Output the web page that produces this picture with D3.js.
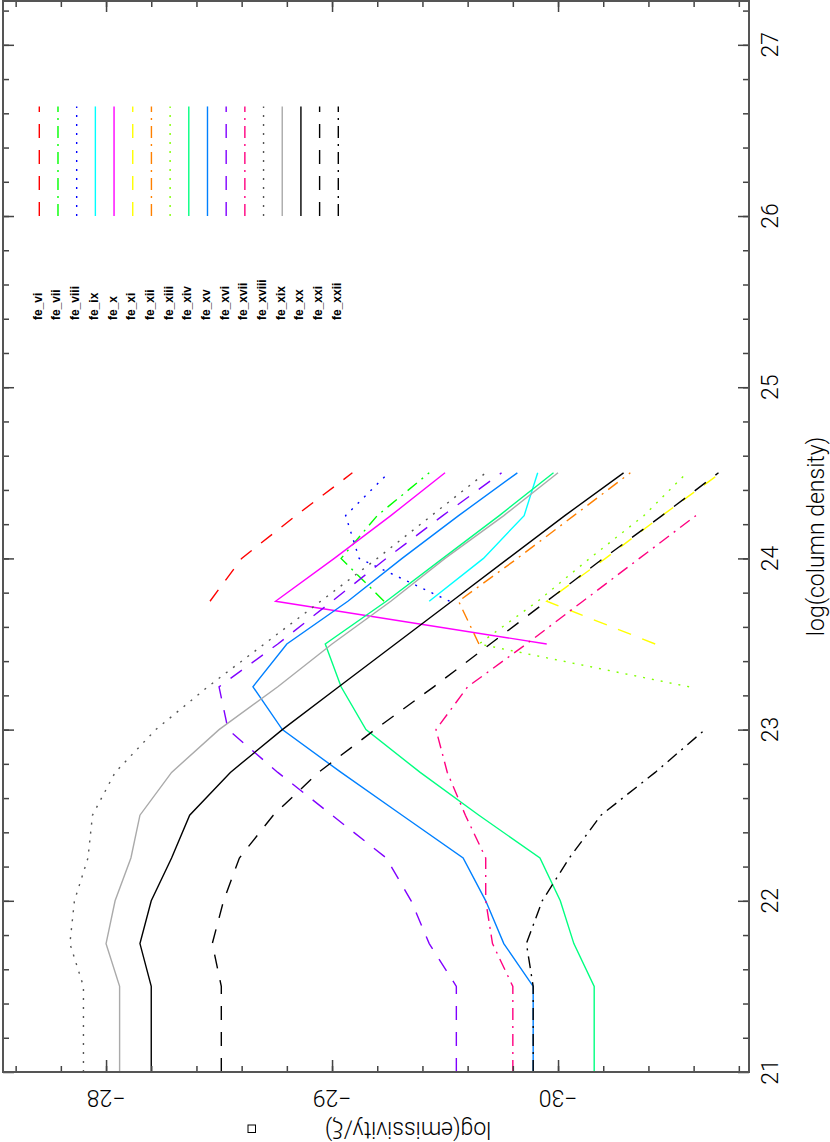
<!DOCTYPE html>
<html>
<head>
<meta charset="utf-8">
<script src="https://cdn.jsdelivr.net/npm/d3@7"></script>
<style>
  html, body { margin: 0; padding: 0; background: #fff; }
  svg { display: block; }
  .lbl { font-family: Roboto, "Liberation Sans", Arial, sans-serif; font-weight: 300; font-size: 23px; fill: #000; }
  .leg { font-family: "Liberation Sans", Arial, sans-serif; font-weight: bold; font-size: 12px; fill: #000; }
</style>
</head>
<body>
<svg id="chart" width="830" height="1142"></svg>
<script>
// column density grid (log N)
const logN = [21, 21.5, 21.75, 22, 22.25, 22.5, 22.75, 23, 23.25, 23.5, 23.75, 24, 24.25, 24.5]

// log(emissivity/xi) per ion, aligned with logN (null = not computed)
const fe_vi    = [null, null, null, null, null, null, null, null, null, null, -28.46, -28.60, -28.84, -29.09]
const fe_vii   = [null, null, null, null, null, null, null, null, null, null, -29.23, -29.04, -29.20, -29.43]
const fe_viii  = [null, null, null, null, null, null, null, null, null, null, -29.52, -29.12, -29.06, -29.25]
const fe_ix    = [null, null, null, null, null, null, null, null, null, null, -29.43, -29.67, -29.85, -29.91]
const fe_x     = [null, null, null, null, null, null, null, null, null, -29.95, -28.75, -29.01, -29.26, -29.50]
const fe_xi    = [null, null, null, null, null, null, null, null, null, -30.43, -29.95, -30.21, -30.46, -30.72]
const fe_xii   = [null, null, null, null, null, null, null, null, null, -29.65, -29.56, -29.82, -30.07, -30.32]
const fe_xiii  = [null, null, null, null, null, null, null, null, -30.58, -29.65, -29.91, -30.14, -30.38, -30.57]
const fe_xiv   = [-30.16, -30.16, -30.07, -30.01, -29.92, -29.65, -29.39, -29.15, -29.04, -28.97, -29.24, -29.49, -29.74, -29.98]
const fe_xv    = [-29.89, -29.89, -29.76, -29.68, -29.58, -29.31, -29.04, -28.78, -28.65, -28.80, -29.07, -29.31, -29.56, -29.82]
const fe_xvi   = [-29.55, -29.55, -29.43, -29.35, -29.24, -29.00, -28.76, -28.54, -28.50, -28.76, -29.00, -29.24, -29.49, -29.75]
const fe_xvii  = [-29.80, -29.80, -29.71, -29.68, -29.68, -29.59, -29.51, -29.46, -29.60, -29.86, -30.11, -30.36, -30.61, null]
const fe_xviii = [-27.90, -27.90, -27.84, -27.86, -27.92, -27.94, -28.04, -28.22, -28.45, -28.70, -28.95, -29.20, -29.44, -29.68]
const fe_xix   = [-28.06, -28.06, -28.00, -28.04, -28.11, -28.15, -28.29, -28.50, -28.76, -29.00, -29.26, -29.50, -29.76, -30.00]
const fe_xx    = [-28.20, -28.20, -28.15, -28.20, -28.29, -28.37, -28.55, -28.78, -29.03, -29.28, -29.53, -29.78, -30.03, -30.29]
const fe_xxi   = [-28.51, -28.51, -28.47, -28.52, -28.59, -28.74, -28.94, -29.19, -29.45, -29.70, -29.95, -30.20, -30.46, -30.71]
const fe_xxii  = [-29.89, -29.89, -29.86, -29.93, -30.05, -30.19, -30.43, -30.65, null, null, null, null, null, null]

const ionNames = ['fe_vi', 'fe_vii', 'fe_viii', 'fe_ix', 'fe_x', 'fe_xi', 'fe_xii', 'fe_xiii', 'fe_xiv',
  'fe_xv', 'fe_xvi', 'fe_xvii', 'fe_xviii', 'fe_xix', 'fe_xx', 'fe_xxi', 'fe_xxii']
const ionValues = [fe_vi, fe_vii, fe_viii, fe_ix, fe_x, fe_xi, fe_xii, fe_xiii, fe_xiv,
  fe_xv, fe_xvi, fe_xvii, fe_xviii, fe_xix, fe_xx, fe_xxi, fe_xxii]

// tick labels
const cdTicks = [21, 22, 23, 24, 25, 26, 27]
const emTicks = [-30, -29, -28]

// pgplot-like colour / line style cycle
const colors = ['#ff0000', '#00ff00', '#0000ff', '#00ffff', '#ff00ff', '#ffff00', '#ff8000', '#80ff00', '#00ff80',
  '#0080ff', '#8000ff', '#ff0080', '#555555', '#aaaaaa', '#000000', '#000000', '#000000']
const dashes = { solid: null, dashed: '14,12', dashdot: '12,6,2,6', dotted: '2,7' }
const styles = ['dashed', 'dashdot', 'dotted', 'solid', 'solid', 'dashed', 'dashdot', 'dotted', 'solid',
  'solid', 'dashed', 'dashdot', 'dotted', 'solid', 'solid', 'dashed', 'dashdot']

const svg = d3.select('#chart')

// plot is drawn rotated: column density runs bottom -> top, emissivity runs right -> left
const frame = { left: 3, right: 749, top: 1, bottom: 1072 }
const y = d3.scaleLinear().domain([21, 27.256]).range([frame.bottom, frame.top])
const x = d3.scaleLinear().domain([-30.845, -27.544]).range([frame.right, frame.left])

// curves
const line = d3.line()
  .defined(d => d.v != null)
  .x(d => x(d.v))
  .y(d => y(d.n))

const curves = svg.append('g')
ionValues.forEach((vals, i) => {
  const pts = vals.map((v, j) => ({ n: logN[j], v }))
  curves.append('path')
    .attr('d', line(pts))
    .attr('fill', 'none')
    .attr('stroke', colors[i])
    .attr('stroke-width', 1.4)
    .attr('stroke-dasharray', dashes[styles[i]])
})

// legend: vertical sample lines with rotated names below
const legX = d3.scalePoint().domain(ionNames).range([39.3, 338.3])
const legend = svg.append('g')
ionNames.forEach((name, i) => {
  legend.append('line')
    .attr('x1', legX(name)).attr('x2', legX(name))
    .attr('y1', y(26)).attr('y2', y(26.64))
    .attr('stroke', colors[i])
    .attr('stroke-width', 1.4)
    .attr('stroke-dasharray', dashes[styles[i]])
  legend.append('text')
    .attr('class', 'leg')
    .attr('transform', `translate(${legX(name) + 2.5},320) rotate(-90)`)
    .attr('text-anchor', 'start')
    .text(name)
})

// ticks on all four sides, pointing inward
const emMinor = d3.range(-154, -137).map(k => k / 5)
const cdMinor = d3.range(106, 137).map(k => k / 5)

function tickSet(axisFn, scale, values, size, tx, ty) {
  const g = svg.append('g')
    .attr('transform', `translate(${tx},${ty})`)
    .call(axisFn(scale).tickValues(values).tickSize(-size).tickFormat(''))
  g.select('.domain').remove()
  g.selectAll('line').attr('stroke', '#444').attr('stroke-width', 1.5)
}
tickSet(d3.axisBottom, x, emMinor, 6, 0, frame.bottom)
tickSet(d3.axisBottom, x, emTicks, 12, 0, frame.bottom)
tickSet(d3.axisTop, x, emMinor, 6, 0, frame.top)
tickSet(d3.axisTop, x, emTicks, 11, 0, frame.top)
tickSet(d3.axisLeft, y, cdMinor, 6, frame.left, 0)
tickSet(d3.axisLeft, y, cdTicks, 11, frame.left, 0)
tickSet(d3.axisRight, y, cdMinor, 6, frame.right, 0)
tickSet(d3.axisRight, y, cdTicks, 11, frame.right, 0)

svg.append('rect')
  .attr('x', frame.left).attr('y', frame.top)
  .attr('width', frame.right - frame.left).attr('height', frame.bottom - frame.top)
  .attr('fill', 'none')
  .attr('stroke', '#555')
  .attr('stroke-width', 2)

// column density labels (right side, reading upward)
const fmt = d3.format('d')
cdTicks.forEach(t => {
  svg.append('text')
    .attr('class', 'lbl')
    .attr('transform', `translate(778,${y(t)}) rotate(-90)`)
    .attr('text-anchor', 'middle')
    .text(fmt(t))
})
svg.append('text')
  .attr('class', 'lbl')
  .attr('transform', `translate(824,${(frame.top + frame.bottom) / 2}) rotate(-90)`)
  .attr('text-anchor', 'middle')
  .text('log(column density)')

// emissivity labels (bottom, upside down)
emTicks.forEach(t => {
  svg.append('text')
    .attr('class', 'lbl')
    .attr('transform', `translate(${x(t)},1090) rotate(180)`)
    .attr('text-anchor', 'middle')
    .text(fmt(t))
})
svg.append('text')
  .attr('class', 'lbl')
  .attr('transform', 'translate(408,1122) rotate(180)')
  .attr('text-anchor', 'middle')
  .text('log(emissivity/ξ)')

// unrendered glyph box next to the axis title
svg.append('rect')
  .attr('x', 248).attr('y', 1125)
  .attr('width', 7.5).attr('height', 7.5)
  .attr('fill', 'none')
  .attr('stroke', '#000')
  .attr('stroke-width', 1)
</script>
</body>
</html>
